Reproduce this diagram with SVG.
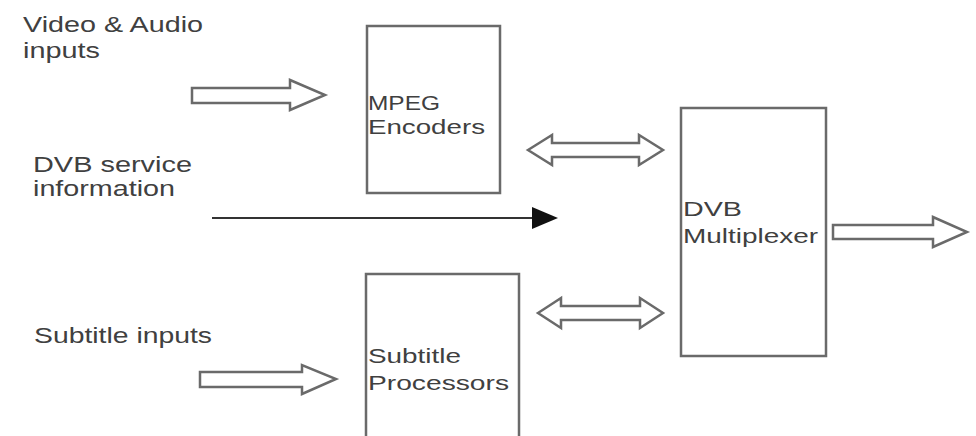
<svg xmlns="http://www.w3.org/2000/svg" width="976" height="436" viewBox="0 0 976 436">
<style>
.box{fill:#fff;stroke:#6a6a6a;stroke-width:2.5}
.blk{fill:#fff;stroke:#6a6a6a;stroke-width:2.5;stroke-linejoin:miter}
text{font-family:"Liberation Sans",Arial,sans-serif;font-size:22px;fill:#404040}
.in{font-size:20px}
</style>
<defs>
<marker id="tri" markerWidth="26" markerHeight="22" refX="2" refY="11" orient="auto" markerUnits="userSpaceOnUse" viewBox="0 0 26 22">
<path d="M0,0 L26,11 L0,22 Z" fill="#111"/>
</marker>
</defs>
<rect width="976" height="436" fill="#fff"/>
<g id="labels">
<text x="23" y="32" textLength="180" lengthAdjust="spacingAndGlyphs">Video &amp; Audio</text>
<text x="23" y="58" textLength="77" lengthAdjust="spacingAndGlyphs">inputs</text>
<text x="33" y="172" textLength="159" lengthAdjust="spacingAndGlyphs">DVB service</text>
<text x="33" y="196" textLength="142" lengthAdjust="spacingAndGlyphs">information</text>
<text x="34" y="343" textLength="178" lengthAdjust="spacingAndGlyphs">Subtitle inputs</text>
</g>
<g id="mpeg">
<rect class="box" x="367" y="26" width="133" height="167"/>
<text class="in" x="368" y="110" textLength="72" lengthAdjust="spacingAndGlyphs">MPEG</text>
<text class="in" x="368" y="134" textLength="117" lengthAdjust="spacingAndGlyphs">Encoders</text>
</g>
<g id="subtitle">
<rect class="box" x="366" y="274" width="153" height="170"/>
<text class="in" x="368" y="363" textLength="93" lengthAdjust="spacingAndGlyphs">Subtitle</text>
<text class="in" x="368" y="390" textLength="141" lengthAdjust="spacingAndGlyphs">Processors</text>
</g>
<g id="mux">
<rect class="box" x="681" y="108" width="145" height="248"/>
<text class="in" x="683" y="216" textLength="59" lengthAdjust="spacingAndGlyphs">DVB</text>
<text class="in" x="683" y="243" textLength="135" lengthAdjust="spacingAndGlyphs">Multiplexer</text>
</g>
<g id="connectors">
<polygon class="blk" points="192,88 290,88 290,80 325,95 290,110 290,103 192,103"/>
<polygon class="blk" points="200,372 302,372 302,365 336,379 302,394 302,387 200,387"/>
<polygon class="blk" points="833,225 933,225 933,217 967,232 933,247 933,239 833,239"/>
<polygon class="blk" points="528,150 552,135 552,143 639,143 639,135 663,150 639,165 639,157 552,157 552,165"/>
<polygon class="blk" points="538,313 561,298 561,306 640,306 640,298 663,313 640,328 640,320 561,320 561,328"/>
<line x1="212" y1="218" x2="534" y2="218" stroke="#333" stroke-width="2" marker-end="url(#tri)"/>
</g>
</svg>
